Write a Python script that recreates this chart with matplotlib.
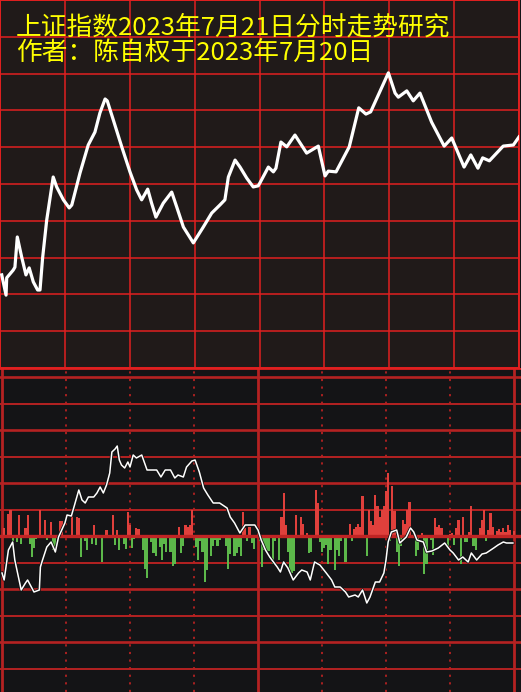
import numpy as np
import matplotlib
matplotlib.use("Agg")
import matplotlib.pyplot as plt
import matplotlib.patheffects as pe

plt.rcParams['font.family'] = ['Noto Sans CJK SC', 'DejaVu Sans']

# titles
title1 = "上证指数2023年7月21日分时走势研究"
title2 = "作者：陈自权于2023年7月20日"

# intraday price curve (minute, relative level 0-100)
price_min = [0.8, 2.8, 3.1, 6.1, 6.9, 8.0, 10.0, 12.0, 13.5, 15.4, 17.4, 18.5, 19.7,
             21.6, 24.6, 26.2, 29.3, 32.0, 33.2, 37.0, 40.8, 43.9, 46.2, 48.6, 49.6,
             52.4, 56.3, 60.1, 63.2, 65.5, 68.3, 70.1, 72.1, 75.5, 79.4, 81.7, 84.8,
             89.4, 94.0, 97.9, 101.7, 104.0, 105.6, 108.7, 111.0, 114.1, 117.1, 119.4,
             120.2, 124.1, 126.4, 127.6, 129.9, 132.6, 136.4, 141.8, 147.2, 150.3,
             151.8, 155.4, 161.5, 165.9, 169.2, 171.4, 179.6, 182.7, 184.2, 188.1,
             191.1, 194.2, 199.6, 205.4, 208.9, 214.6, 217.7, 221.0, 223.2, 226.3,
             232.7, 237.4, 240.0]
price_val = [25.3, 19.8, 24.5, 26.6, 27.4, 35.6, 30.2, 25.3, 27.2, 23.4, 21.2, 21.2, 29.9,
             40.2, 51.9, 49.2, 45.7, 43.5, 44.3, 53.0, 60.6, 64.1, 69.3, 73.1, 72.6,
             67.4, 60.1, 53.3, 48.4, 45.7, 48.6, 44.8, 41.0, 44.8, 47.8, 43.8, 38.3,
             34.0, 38.3, 42.1, 44.3, 45.7, 51.9, 56.5, 54.6, 51.6, 49.2, 49.5,
             50.3, 54.6, 53.3, 54.3, 61.4, 60.1, 63.3, 58.4, 60.3, 52.2,
             53.5, 53.3, 60.1, 70.7, 69.0, 69.6, 80.2, 74.7, 73.6, 75.3,
             72.6, 74.7, 66.8, 60.3, 62.5, 54.6, 57.9, 54.3, 57.1, 56.3,
             60.3, 60.6, 62.8]

# oscillator bars (minute, value)
bar_min = [1, 3, 4, 5, 7, 8, 9, 11, 12, 13, 14, 15, 16, 18, 20, 21, 23, 24, 25, 27, 28,
           33, 35, 36, 37, 39, 40, 42, 43, 44, 47, 49, 52, 53, 54, 55, 57, 58, 59, 60,
           61, 62, 63, 64, 66, 67, 68, 70, 71, 72, 74, 75, 76, 77, 79, 80, 81, 83, 84,
           85, 86, 87, 88, 89, 91, 92, 93, 94, 95, 96, 98, 99, 100, 101, 102, 105, 106,
           107, 109, 110, 111, 112, 113, 114, 115, 116, 117, 118, 121, 122, 123, 124,
           125, 127, 128, 130, 131, 132, 133, 134, 135, 136, 137, 138, 139, 140, 141,
           142, 143, 144, 145, 147, 148, 149, 150, 151, 152, 153, 154, 156, 157, 158,
           159, 161, 163, 164, 165, 166, 167, 168, 169, 171, 172, 173, 174, 175, 176,
           177, 178, 179, 180, 181, 182, 183, 184, 185, 186, 187, 188, 189, 190, 191,
           193, 194, 195, 197, 198, 199, 201, 202, 203, 204, 205, 206, 209, 210, 211,
           212, 213, 214, 215, 216, 217, 218, 219, 220, 221, 222, 224, 225, 226, 227,
           228, 229, 230, 232, 233, 234, 235, 236, 237, 238, 240]
bar_val = [8, 22, 26, -5, -6, 21, -8, 8, 21, -8, -21, -12, -3, 26, 16, -4, 14, -14, -17,
           15, 15, 23, 19, 18, -21, -5, -14, -8, 11, -9, -26, 6, 21, -9, 6, -14, -8, -13,
           24, 11, -12, -3, 8, 7, -14, -33, -42, -6, -17, -20, -11, -24, -8, -16, -16,
           -30, -28, 9, -17, -10, 11, 9, 11, 26, -11, -24, -5, -16, -46, -34, -20, -10,
           -4, -10, -4, -10, -33, -18, -20, -17, -11, -20, 24, 8, -5, 9, -7, -13, -5,
           -31, -14, -15, -15, -28, -5, -24, 19, 43, 11, -16, -35, -37, -35, 21, -2, 19,
           12, -2, 3, -17, -16, 46, 33, -6, -16, -12, -9, -28, -14, -34, -14, -20, -5,
           -26, 12, -5, 7, 9, 12, 9, 40, -20, 26, 15, 11, 41, 30, 19, 26, 30, 45, 63,
           -5, 50, 25, -16, -30, -10, 16, 12, 26, 34, 5, -20, -14, 3, -38, -28, -4, -19,
           18, 9, 11, 8, -10, 2, 3, -9, 8, 16, -28, 19, -6, -6, 4, 30, -10, -14, 8, 16,
           26, -5, 6, 23, 9, 5, 7, 4, 8, 4, 11, 6, 5]

# oscillator line (minute, value)
osc_min = [0, 1, 3, 5, 6, 7, 9, 11, 12, 15, 17.5, 18, 19, 21, 23, 25, 26.5, 29.5, 30.5,
           32.5, 34, 36, 37.5, 39, 40.5, 43, 44.5, 46, 47.5, 49, 50.5, 51.5, 53, 54,
           55, 56, 57.5, 59, 60, 61.5, 63, 65.5, 68, 70, 72.5, 74.5, 76.5, 79, 81,
           82.5, 85, 86.5, 89, 90.5, 92.5, 94.5, 96.5, 99, 102, 105.5, 107, 109, 111.5,
           114, 116, 118.5, 120, 121.5, 123.5, 125.5, 129, 130.5, 132, 134, 136.5, 139,
           140.5, 143, 144.5, 146.5, 149, 152, 154.5, 156, 158.5, 161, 162.5, 165.5,
           167, 169, 171, 172.5, 175, 177, 179, 180, 181, 182.5, 185, 186.5, 189.5,
           191.5, 193, 194.5, 197.5, 199, 201.5, 204.5, 207.5, 210, 211.5, 214, 216,
           218.5, 220, 222.5, 225, 227, 230.5, 232.5, 235, 236.5, 239.5]
osc_val = [-37, -44, -14, -6, -24, -34, -54, -47, -44, -56, -54, -31, -24, -11, -6, -16,
           -1, 13, 21, 20, 31, 46, 36, 33, 39, 39, 43, 49, 43, 51, 63, 84, 87, 90, 76,
           71, 68, 74, 69, 81, 78, 81, 66, 66, 66, 59, 66, 66, 58, 61, 59, 69, 75, 76,
           64, 48, 41, 33, 33, 28, 19, 13, 3, 11, 11, 11, 6, -4, -14, -21, -31, -36,
           -26, -32, -44, -37, -34, -36, -44, -26, -29, -37, -44, -51, -51, -56, -61,
           -59, -61, -54, -67, -61, -46, -46, -37, -24, -6, 4, 6, -7, -1, 8, 4, -4, -6,
           -16, -15, -12, -7, -14, -17, -24, -21, -26, -17, -24, -18, -17, -12, -9, -6,
           -7, -7]

W, H = 521, 692
fig = plt.figure(figsize=(W / 100, H / 100), dpi=100)
fig.patch.set_facecolor('#141416')

# ---- top panel: price curve
top_h = 368
ax1 = fig.add_axes([0, (H - top_h) / H, 519 / W, top_h / H])
ax1.set_facecolor('#201a19')
ax1.set_xlim(0, 240)
ax1.set_ylim(0, 100)
for xv in range(0, 241, 30):
    ax1.axvline(xv, color='#e02020', lw=1.1, zorder=1)
for yv in range(0, 101, 10):
    ax1.axhline(yv, color='#e02020', lw=1.1, zorder=1)
ax1.plot(price_min, price_val, color='white', lw=2.3, zorder=3,
         solid_joinstyle='round')
ax1.set_xticks([]); ax1.set_yticks([])
for sp in ax1.spines.values():
    sp.set_color('#e02020'); sp.set_linewidth(1.4)

ax1.text(16 / 519 * 240, 100 - 27.5 / 3.68, title1, color='#ffff00', fontsize=18.5,
         va='center', ha='left', zorder=5)
ax1.text(16 / 519 * 240, 100 - 52.5 / 3.68, title2, color='#ffff00', fontsize=18.5,
         va='center', ha='left', zorder=5)

# ---- bottom panel: oscillator
ax2 = fig.add_axes([0, 0, 1, (H - top_h) / H])
ax2.set_facecolor('#141416')
ppm = 512 / 240.0
ax2.set_xlim(-2 / ppm, (W - 2) / ppm)
ax2.set_ylim(-156, 168)
gstep = 26.5
for k in range(-5, 7):
    if k == 0:
        continue
    ax2.axhline(k * gstep, color='#b52222', lw=1.4 if k % 2 else 1.9, zorder=1)
ax2.axhline(0, color='#c02424', lw=2.4, zorder=3)
for xv in range(0, 241, 30):
    if xv % 120 == 0:
        ax2.axvline(xv, color='#b52222', lw=2.0, zorder=1)
    else:
        ax2.axvline(xv, color='#b52222', lw=1.3, ls=(0, (1.2, 3)), zorder=1)

bar_val = np.array(bar_val)
colors = np.where(bar_val > 0, '#e0403c', '#5cb84a')
ax2.bar(bar_min, bar_val, width=1.0, color=colors, zorder=2)

ax2.plot(osc_min, osc_val, color='white', lw=1.1, zorder=4,
         path_effects=[pe.Stroke(linewidth=2.2, foreground='#101010'), pe.Normal()])
ax2.set_xticks([]); ax2.set_yticks([])
for sp in ax2.spines.values():
    sp.set_visible(False)
ax2.axhline(168, color='#e02020', lw=2.0, zorder=5)

fig.savefig('out.png', dpi=100, facecolor=fig.get_facecolor())
